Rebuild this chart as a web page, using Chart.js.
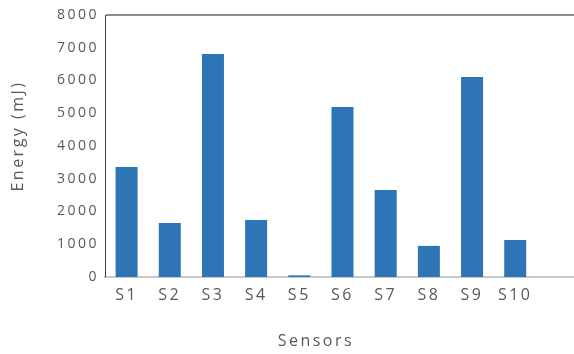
<!DOCTYPE html>
<html>
<head>
<meta charset="utf-8">
<script src="https://cdn.jsdelivr.net/npm/chart.js@4/dist/chart.umd.min.js"></script>
<style>
  html, body { margin: 0; padding: 0; background: #fff; overflow: hidden; }
  #wrap { width: 580px; height: 354px; }
</style>
</head>
<body>
<div id="wrap"><canvas id="myChart" width="580" height="354"></canvas></div>
<script>
// energy used by each sensor, in mJ (last slot left empty)
var sensors = ['S1', 'S2', 'S3', 'S4', 'S5', 'S6', 'S7', 'S8', 'S9', 'S10', ''];
var energy = [3360, 1650, 6810, 1740, 50, 5190, 2660, 950, 6110, 1130, null];
var yTicks = [0, 1000, 2000, 3000, 4000, 5000, 6000, 7000, 8000];
var xTitle = 'Sensors';
var yTitle = 'Energy (mJ)';

var textColor = '#595959';
var fontName = '"Open Sans", sans-serif';

// wide letter spacing on every label, plus the two axis titles
var spacing = {
    id: 'spacing',
    beforeDraw: function (chart) {
        chart.ctx.letterSpacing = '2.5px';
    },
    afterDraw: function (chart) {
        var c = chart.ctx;
        var xs = chart.scales.x;
        var area = chart.chartArea;
        c.save();
        c.letterSpacing = '2.5px';
        c.fillStyle = textColor;
        c.font = '16px ' + fontName;
        c.textAlign = 'center';
        c.textBaseline = 'middle';
        var mid = (xs.getPixelForValue(0) + xs.getPixelForValue(9)) / 2 - 5;
        c.fillText(xTitle, mid, 341);
        c.translate(18, (area.top + area.bottom) / 2 - 10);
        c.rotate(-Math.PI / 2);
        c.fillText(yTitle, 0, 0);
        c.restore();
    }
};

var ctx = document.getElementById('myChart');
var myChart = new Chart(ctx, {
    type: 'bar',
    data: {
        labels: sensors,
        datasets: [{
            data: energy,
            backgroundColor: '#2E75B6',
            borderWidth: 0,
            categoryPercentage: 1,
            barPercentage: 0.51
        }]
    },
    options: {
        responsive: false,
        animation: false,
        layout: { padding: { top: 15, left: 0, right: 0, bottom: 0 } },
        plugins: {
            legend: { display: false },
            tooltip: { enabled: false }
        },
        scales: {
            x: {
                grid: { display: false, drawTicks: false },
                border: { color: '#c8c8c8', width: 2 },
                ticks: {
                    color: textColor,
                    padding: 9,
                    maxRotation: 0,
                    autoSkip: false,
                    font: { family: fontName, size: 16 }
                },
                afterFit: function (scale) { scale.height = 77; }
            },
            y: {
                min: 0,
                max: 8000,
                afterBuildTicks: function (scale) {
                    scale.ticks = yTicks.map(function (v) { return { value: v }; });
                },
                grid: {
                    drawTicks: false,
                    color: function (c) { return c.tick && c.tick.value === 8000 ? '#8c8c8c' : 'rgba(0,0,0,0)'; },
                    lineWidth: function (c) { return c.tick && c.tick.value === 8000 ? 2 : 0; }
                },
                border: { color: '#404040', width: 1 },
                ticks: {
                    color: textColor,
                    padding: 6,
                    font: { family: fontName, size: 14 },
                    callback: function (v) { return String(v); }
                },
                afterFit: function (scale) { scale.width = 105; }
            }
        }
    },
    plugins: [spacing]
});
</script>
</body>
</html>
